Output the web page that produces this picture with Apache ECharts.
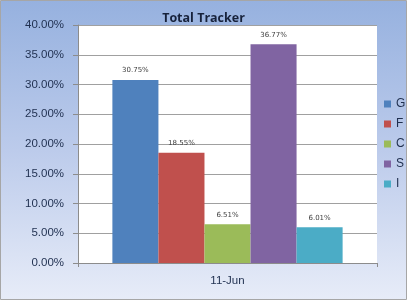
<!DOCTYPE html>
<html><head><meta charset="utf-8">
<script src="https://cdn.jsdelivr.net/npm/echarts@6/dist/echarts.min.js"></script>
<style>html,body{margin:0;padding:0;background:#fff}#c{width:407px;height:300px}</style>
</head><body><div id="c"></div>
<script>
var categories = ['11-Jun'];
var seriesNames = ['G', 'F', 'C', 'S', 'I'];
var seriesValues = [[30.75], [18.55], [6.51], [36.77], [6.01]];
var seriesColors = ['#4f81bd', '#c0504d', '#9bbb59', '#8064a2', '#4bacc6'];
var yTicks = [0, 5, 10, 15, 20, 25, 30, 35, 40];

var chart = echarts.init(document.getElementById('c'), null, {renderer: 'canvas'});
var series = seriesNames.map(function (n, i) {
  return {
    name: n, type: 'bar', data: seriesValues[i],
    barGap: '0%', barCategoryGap: '23%',
    itemStyle: {color: seriesColors[i]},
    label: {show: true, position: 'top', distance: 6, fontSize: 7, color: '#404040',
      fontFamily: 'DejaVu Sans',
      formatter: function (p) { return p.value.toFixed(2) + '%'; }}
  };
});
chart.setOption({
  animation: false,
  graphic: [{
    type: 'rect', left: 0, top: 0, z: -10,
    shape: {x: 0.5, y: 0.5, width: 406, height: 299},
    style: {
      fill: new echarts.graphic.LinearGradient(0, 0, 0, 1, [
        {offset: 0, color: '#96b1df'}, {offset: 0.5, color: '#bccbeb'}, {offset: 1, color: '#e7ecf8'}
      ]),
      stroke: '#a6a6a6', lineWidth: 1
    }
  }],
  title: {
    text: 'Total Tracker', left: 'center', top: 7,
    textStyle: {fontSize: 12.5, fontWeight: 'bold', color: '#17223b', fontFamily: 'Open Sans'}
  },
  legend: {
    orient: 'vertical', left: 384, top: 98, itemWidth: 7, itemHeight: 7, itemGap: 8,
    icon: 'rect', padding: 0,
    textStyle: {fontSize: 12, color: '#1f2f4f', fontFamily: 'Liberation Sans'},
    data: seriesNames
  },
  grid: {left: 78, right: 30, top: 25, bottom: 37, show: true, backgroundColor: '#ffffff', borderWidth: 0},
  xAxis: {
    type: 'category', data: categories,
    axisLine: {lineStyle: {color: '#8c8c8c'}},
    axisTick: {show: true, length: 4, lineStyle: {color: '#8c8c8c'}},
    axisLabel: {fontSize: 11.5, color: '#1f2f4f', margin: 12, fontFamily: 'Liberation Sans'}
  },
  yAxis: {
    type: 'value', min: yTicks[0], max: yTicks[yTicks.length - 1], interval: yTicks[1] - yTicks[0],
    axisLine: {show: true, lineStyle: {color: '#8c8c8c'}},
    axisTick: {show: true, length: 5, lineStyle: {color: '#8c8c8c'}},
    splitLine: {lineStyle: {color: '#a0a0a0'}},
    axisLabel: {fontSize: 11.5, color: '#1f2f4f', margin: 14, fontFamily: 'Liberation Sans',
      formatter: function (v) { return v.toFixed(2) + '%'; }}
  },
  series: series
});
</script></body></html>
